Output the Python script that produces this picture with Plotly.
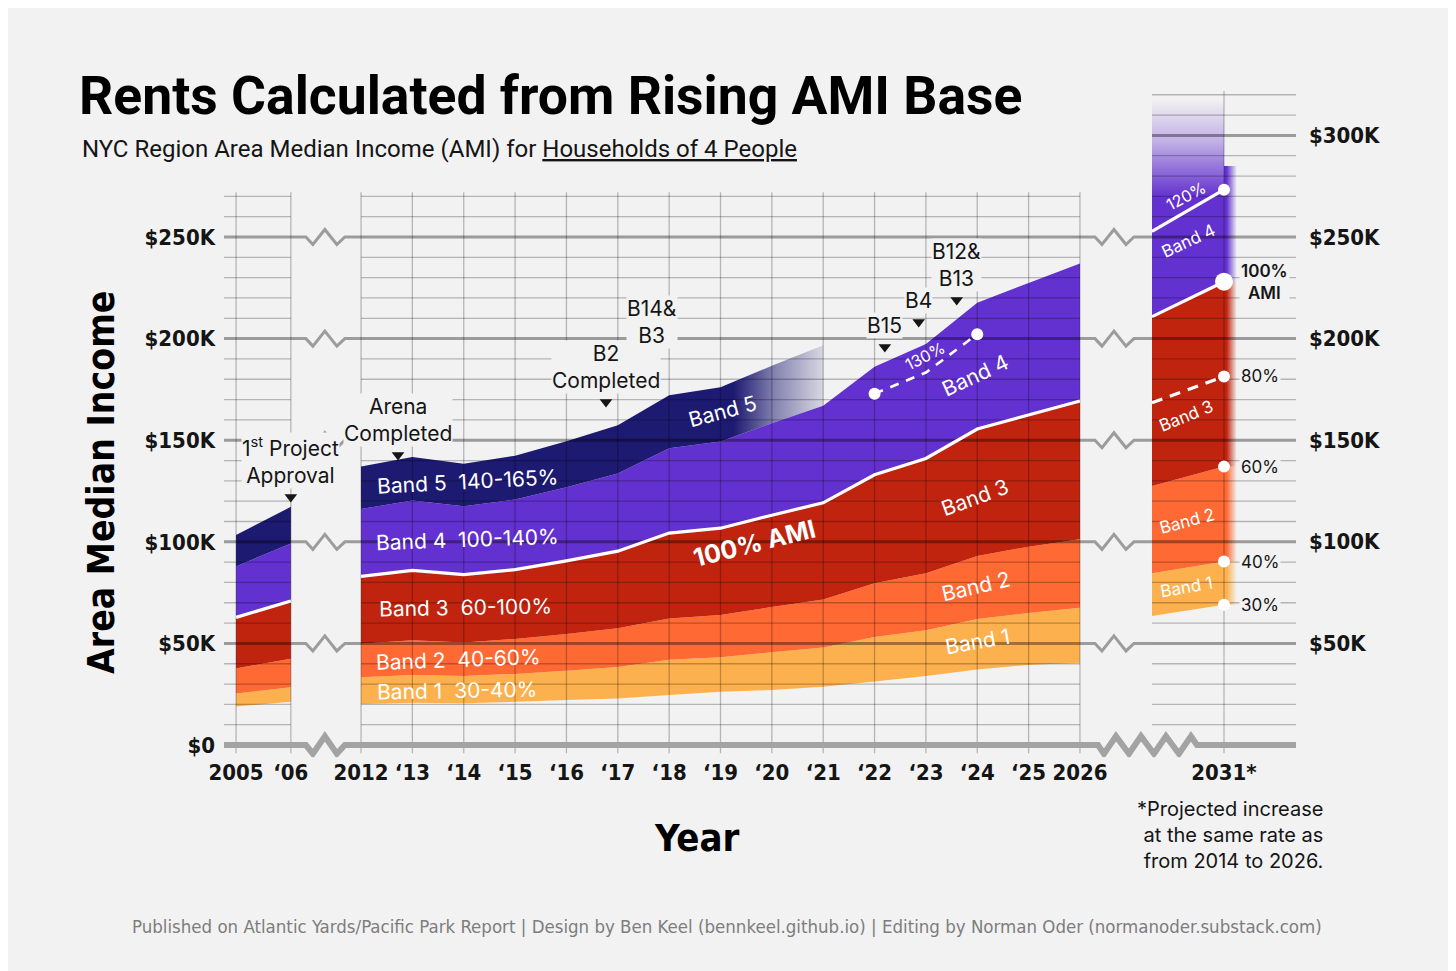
import plotly.graph_objects as go

W, H = 1456, 971
OFF = 8  # the page puts the figure 8px in from the top-left corner

BG = "#f2f2f2"
INK = "#151515"
NAVY = "#1d1a72"
PURPLE = "#6331cf"
RED = "#c0240f"
ORANGE = "#fe6934"
YELLOW = "#fdb14e"

SANS = "Inter, Roboto, 'Liberation Sans', sans-serif"
HEAD = "Roboto, Inter, 'Liberation Sans', sans-serif"
NARROW = "'DejaVu Sans Condensed', 'Liberation Sans', sans-serif"

# ---- values (thousands of dollars) ----
YEARS_EARLY = [2005, 2006]
YEARS_MID = [2012, 2013, 2014, 2015, 2016, 2017, 2018, 2019, 2020, 2021, 2022, 2023, 2024, 2025, 2026]
YEARS_BAND5 = [2012, 2013, 2014, 2015, 2016, 2017, 2018, 2019, 2020, 2021]
YEARS_130 = [2022, 2023, 2024]
YEARS_PROJ = [2029.6, 2031]

EARLY_BASE = [18.9, 21.3]
EARLY_40 = [25.4, 28.4]
EARLY_60 = [37.7, 42.5]
EARLY_AMI = [62.8, 70.9]
EARLY_140 = [87.9, 99.2]
EARLY_165 = [103.4, 117.2]

MID_BASE = [20.2, 20.8, 20.5, 21.3, 22.1, 22.9, 24.6, 26.2, 27.1, 28.7, 31.2, 34.0, 37.2, 39.4, 40.5]
MID_40 = [33.3, 34.4, 33.9, 35.0, 36.6, 38.4, 41.9, 43.2, 45.6, 48.0, 53.2, 56.5, 62.0, 65.0, 67.5]
MID_60 = [49.8, 51.6, 50.4, 52.2, 54.6, 57.4, 62.3, 64.0, 67.9, 71.6, 79.6, 84.5, 93.0, 97.6, 101.2]
MID_AMI = [83.0, 85.9, 83.9, 86.3, 90.6, 95.4, 104.3, 106.7, 113.1, 119.2, 133.0, 141.0, 155.5, 162.4, 169.3]
MID_140 = [116.2, 120.3, 117.5, 120.8, 126.8, 133.6, 146.0, 149.4, 158.3, 166.9, 186.2, 197.4, 217.7, 227.4, 237.0]
MID_165 = [137.0, 141.7, 138.4, 142.4, 149.5, 157.4, 172.1, 176.1, 186.6, 196.7]
MID_130 = [172.9, 183.3, 202.2]

PROJ_BASE = [63.5, 69.0]
PROJ_40 = [84.5, 90.3]
PROJ_60 = [127.5, 137.0]
PROJ_80 = [168.4, 181.4]
PROJ_AMI = [210.8, 228.0]
PROJ_120 = [252.8, 273.3]

TICKS_EARLY = ["2005", "\u201806"]
TICKS_MID = ["2012", "\u201813", "\u201814", "\u201815", "\u201816", "\u201817", "\u201818", "\u201819",
             "\u201820", "\u201821", "\u201822", "\u201823", "\u201824", "\u201825", "2026"]
TICKS_PROJ = ["2031*"]

Y_TICKS_LEFT = [0, 50, 100, 150, 200, 250]
Y_TICKS_RIGHT = [50, 100, 150, 200, 250, 300]

EVENT_TEXT = ["Housing<br>MOU Signed", "1<sup>st</sup> Project<br>Approval", "Arena<br>Completed",
              "B2<br>Completed", "B14&amp;<br>B3", "B15", "B4", "B12&amp;<br>B13"]
EVENT_YEAR = [2005, 2006, 2012.72, 2016.77, 2017.66, 2022.2, 2022.86, 2023.6]
EVENT_ARROW_Y = [-28.5, 122, 142.7, 168.8, 191, 195.9, 208.2, 219]  # where the pointer sits


def fx(px):
    return (px - OFF) / W


def fy(py):
    return 1 - (py - OFF) / H


# ---- panel geometry: pixel domains, year ranges ----
Y_RANGE = [-6, 322]
Y_DOMAIN = [fy(757.2), fy(90.7)]
PANELS = {
    "x": dict(dom=[224, 292.5], rng=[2004.78, 2006.03], span=[2004.78, 2006], top=270, vtop=272,
              verts=YEARS_EARLY),
    "x2": dict(dom=[359.5, 1081.5], rng=[2011.97, 2026.03], span=[2012, 2026], top=270, vtop=272,
               verts=YEARS_MID),
    "x3": dict(dom=[1152, 1296], rng=[2029.6, 2032.4], span=[2029.6, 2032.4], top=320, vtop=322,
               verts=[2031]),
}
FADE = 0.25          # soft right edge of the projection column, in years
FADE_TOP = 318       # where the projected purple fades out


def to_paper(axis, year):
    p = PANELS[axis]
    frac = (year - p["rng"][0]) / (p["rng"][1] - p["rng"][0])
    return fx(p["dom"][0] + frac * (p["dom"][1] - p["dom"][0]))


def hex_rgba(color, alpha):
    r, g, b = (int(color[i:i + 2], 16) for i in (1, 3, 5))
    return f"rgba({r},{g},{b},{alpha})"


def band(xs, lower, upper, color, xaxis, gradient=None):
    tr = go.Scatter(x=list(xs) + list(xs)[::-1], y=list(upper) + list(lower)[::-1],
                    xaxis=xaxis, yaxis="y", mode="none", fill="toself", fillcolor=color,
                    hoverinfo="skip", showlegend=False)
    if gradient is not None:
        tr.update(fillgradient=gradient)
    return tr


def fade_edge(lower, upper, color):
    xs = [YEARS_PROJ[-1], YEARS_PROJ[-1] + FADE]
    grad = dict(type="horizontal", start=xs[0], stop=xs[1],
                colorscale=[[0, color], [0.2, color], [1, hex_rgba(color, 0)]])
    return band(xs, [lower] * 2, [upper] * 2, color, "x3", grad)


def line(xs, ys, xaxis, width=3.2, dash="solid", color="white"):
    return go.Scatter(x=xs, y=ys, xaxis=xaxis, yaxis="y", mode="lines",
                      line=dict(color=color, width=width, dash=dash),
                      hoverinfo="skip", showlegend=False)


def grid(xaxis):
    p = PANELS[xaxis]
    x0, x1 = p["span"]
    mx, my, Mx, My = [], [], [], []
    for v in range(10, p["top"] + 1, 10):
        if v % 50:
            mx += [x0, x1, None]
            my += [v, v, None]
        else:
            Mx += [x0, x1, None]
            My += [v, v, None]
    for yr in p["verts"]:
        mx += [yr, yr, None]
        my += [-4, p["vtop"], None]
    return [line(mx, my, xaxis, 1.3, color="rgba(0,0,0,0.25)"),
            line(Mx, My, xaxis, 3, color="rgba(0,0,0,0.36)")]


traces = []

# early column 2005-06
traces += [
    band(YEARS_EARLY, EARLY_BASE, EARLY_40, YELLOW, "x"),
    band(YEARS_EARLY, EARLY_40, EARLY_60, ORANGE, "x"),
    band(YEARS_EARLY, EARLY_60, EARLY_AMI, RED, "x"),
    band(YEARS_EARLY, EARLY_AMI, EARLY_140, PURPLE, "x"),
    band(YEARS_EARLY, EARLY_140, EARLY_165, NAVY, "x"),
]

# 2012-2026
navy_fade = dict(type="horizontal", start=2012, stop=2021.3,
                 colorscale=[[0, NAVY], [0.78, NAVY], [0.87, hex_rgba(NAVY, 0.5)],
                             [1, hex_rgba(NAVY, 0)]])
traces += [
    band(YEARS_MID, MID_BASE, MID_40, YELLOW, "x2"),
    band(YEARS_MID, MID_40, MID_60, ORANGE, "x2"),
    band(YEARS_MID, MID_60, MID_AMI, RED, "x2"),
    band(YEARS_MID, MID_AMI, MID_140, PURPLE, "x2"),
    band(YEARS_BAND5, MID_140[:len(YEARS_BAND5)], MID_165, NAVY, "x2", navy_fade),
]

# projection column
purple_fade = dict(type="vertical", start=PROJ_AMI[0], stop=FADE_TOP,
                   colorscale=[[0, PURPLE], [0.55, PURPLE], [0.8, hex_rgba(PURPLE, 0.35)],
                               [1, hex_rgba(PURPLE, 0)]])
traces += [
    band(YEARS_PROJ, PROJ_BASE, PROJ_40, YELLOW, "x3"),
    band(YEARS_PROJ, PROJ_40, PROJ_60, ORANGE, "x3"),
    band(YEARS_PROJ, PROJ_60, PROJ_AMI, RED, "x3"),
    band(YEARS_PROJ, PROJ_AMI, [FADE_TOP] * 2, PURPLE, "x3", purple_fade),
    fade_edge(PROJ_BASE[-1], PROJ_40[-1], YELLOW),
    fade_edge(PROJ_40[-1], PROJ_60[-1], ORANGE),
    fade_edge(PROJ_60[-1], PROJ_AMI[-1], RED),
    fade_edge(PROJ_AMI[-1], 285, PURPLE),
]

# grid drawn over the fills
for ax in PANELS:
    traces += grid(ax)

# white threshold lines
traces += [
    line(YEARS_EARLY, EARLY_AMI, "x"),
    line(YEARS_MID, MID_AMI, "x2"),
    line(YEARS_130, MID_130, "x2", 2.6, dash="9px,8px"),
    line(YEARS_PROJ, PROJ_AMI, "x3"),
    line(YEARS_PROJ, PROJ_120, "x3"),
    line(YEARS_PROJ, PROJ_80, "x3", dash="11px,8px"),
]

traces.append(go.Scatter(x=[YEARS_130[0], YEARS_130[-1]], y=[MID_130[0], MID_130[-1]],
                         xaxis="x2", yaxis="y", mode="markers",
                         marker=dict(color="white", size=12, opacity=1, line=dict(width=0)),
                         hoverinfo="skip", showlegend=False))
proj_dots = [PROJ_BASE[-1], PROJ_40[-1], PROJ_60[-1], PROJ_80[-1], PROJ_AMI[-1], PROJ_120[-1]]
traces.append(go.Scatter(x=[YEARS_PROJ[-1]] * len(proj_dots), y=proj_dots, xaxis="x3", yaxis="y",
                         mode="markers", cliponaxis=False,
                         marker=dict(color="white", size=[12, 12, 12, 12, 18, 12], opacity=1,
                                     line=dict(width=0)),
                         hoverinfo="skip", showlegend=False))

# event pointers
for yr, ay in zip(EVENT_YEAR, EVENT_ARROW_Y):
    ax = "x" if yr <= 2006 else "x2"
    traces.append(go.Scatter(x=[yr], y=[ay], xaxis=ax, yaxis="y", mode="markers", cliponaxis=False,
                             marker=dict(symbol="triangle-up" if ay < 0 else "triangle-down",
                                         size=11, color=INK),
                             hoverinfo="skip", showlegend=False))

fig = go.Figure(traces)

annotations = []
for txt, yr, ay in zip(EVENT_TEXT, EVENT_YEAR, EVENT_ARROW_Y):
    ax = "x" if yr <= 2006 else "x2"
    below = ay < 0
    annotations.append(dict(text=txt, x=yr, y=ay, xref=ax, yref="y", showarrow=False,
                            xanchor="center", yanchor="top" if below else "bottom",
                            yshift=-8 if below else 8,
                            font=dict(family=SANS, size=21, color=INK), bgcolor=BG, borderpad=0))

# white labels inside the bands
BAND_LABELS = [
    ("Band 5\u00a0\u00a0140-165%", "x2", 2014.07, 129.9, -3, 21),
    ("Band 4\u00a0\u00a0100-140%", "x2", 2014.07, 100.9, -2, 21),
    ("Band 3\u00a0\u00a060-100%", "x2", 2014.04, 67.9, -1, 21),
    ("Band 2\u00a0\u00a040-60%", "x2", 2013.89, 42.3, -2, 21),
    ("Band 1\u00a0\u00a030-40%", "x2", 2013.86, 26.6, -1, 21),
    ("Band 5", "x2", 2019.03, 163.9, -15, 21),
    ("Band 4", "x2", 2023.95, 182.0, -25, 21),
    ("130%", "x2", 2022.98, 191.4, -27, 16),
    ("Band 3", "x2", 2023.95, 122.0, -20, 21),
    ("Band 2", "x2", 2023.97, 78.2, -13, 21),
    ("Band 1", "x2", 2024.0, 50.7, -10, 21),
    ("120%", "x3", 2030.26, 270.2, -28, 16),
    ("Band 4", "x3", 2030.3, 248.0, -25, 17),
    ("Band 3", "x3", 2030.26, 161.9, -22, 17),
    ("Band 2", "x3", 2030.28, 110.2, -15, 17),
    ("Band 1", "x3", 2030.28, 77.8, -10, 17),
]
for txt, ax, x, y, ang, size in BAND_LABELS:
    annotations.append(dict(text=txt, x=x, y=y, xref=ax, yref="y", showarrow=False, textangle=ang,
                            xanchor="center", yanchor="middle",
                            font=dict(family=SANS, size=size, color="white")))
annotations.append(dict(text="100% AMI", x=2019.67, y=99.4, xref="x2", yref="y", showarrow=False,
                        textangle=-14, xanchor="center", yanchor="middle",
                        font=dict(family=SANS, size=25, color="white", weight=700)))

# labels beside the projected dots
for txt, y in [("100%<br>AMI", PROJ_AMI[-1]), ("80%", PROJ_80[-1]), ("60%", PROJ_60[-1]),
               ("40%", PROJ_40[-1]), ("30%", PROJ_BASE[-1])]:
    bold = "AMI" in txt
    annotations.append(dict(text=txt, x=YEARS_PROJ[-1] + 0.3, y=y, xref="x3", yref="y",
                            showarrow=False, xanchor="left", yanchor="middle", bgcolor=BG, borderpad=1,
                            font=dict(family=SANS, size=17, color=INK, weight=600 if bold else 400)))

tick_font = dict(family=NARROW, size=22, color=INK, weight=700)

# right-hand dollar labels
for v in Y_TICKS_RIGHT:
    annotations.append(dict(text=f"${v}K", x=fx(1307), y=v, xref="paper", yref="y", showarrow=False,
                            xanchor="left", yanchor="middle", font=tick_font))

paper_text = dict(xref="paper", yref="paper", showarrow=False, yanchor="middle")
annotations += [
    dict(paper_text, text="Rents Calculated from Rising AMI Base", x=fx(77), y=fy(95), xanchor="left",
         font=dict(family=HEAD, size=53.5, color="#000", weight=700)),
    dict(paper_text, text="NYC Region Area Median Income (AMI) for <u>Households of 4 People</u>",
         x=fx(80), y=fy(149), xanchor="left", font=dict(family=HEAD, size=24, color=INK)),
    dict(paper_text, text="Area Median Income", x=fx(101), y=fy(483), xanchor="center", textangle=-90,
         font=dict(family=NARROW, size=37, color="#000", weight=700)),
    dict(paper_text, text="Year", x=fx(697), y=fy(838), xanchor="center",
         font=dict(family=NARROW, size=38, color="#000", weight=700)),
    dict(paper_text, text="*Projected increase<br>at the same rate as<br>from 2014 to 2026.",
         x=fx(1325), y=fy(835), xanchor="right", align="right",
         font=dict(family=SANS, size=20, color=INK)),
    dict(paper_text, text="Published on Atlantic Yards/Pacific Park Report | Design by Ben Keel "
                          "(bennkeel.github.io) | Editing by Norman Oder (normanoder.substack.com)",
         x=fx(727), y=fy(926), xanchor="center", font=dict(family=NARROW, size=18.5, color="#7d7d7d")),
]


def zigzag(v, amp, gaps):
    pts = [(to_paper("x", PANELS["x"]["span"][0]), v)]
    for start, offsets in gaps:
        for i, off in enumerate(offsets):
            if i == 0 or i == len(offsets) - 1:
                dy = 0
            else:
                dy = -amp if i % 2 else amp
            pts.append((start + off / W, v + dy))
    pts.append((to_paper("x3", PANELS["x3"]["span"][1]), v))
    return "M " + " L ".join(f"{x:.5f},{y:.2f}" for x, y in pts)


# zigzag break marks in the gaps between the columns
gap_left = to_paper("x", 2006)
gap_right = to_paper("x2", 2026)
TEETH = [15, 22, 34, 46, 54]
shapes = []
for v in range(50, 251, 50):
    # only the gap pieces: inside the columns the grid traces draw the line
    for start, end in [(gap_left, to_paper("x2", 2012)), (gap_right, to_paper("x3", 2029.6))]:
        pts = [(start, v)] + [(start + off / W, v + (0 if i in (0, 4) else (-3.7 if i % 2 else 3.7)))
                              for i, off in enumerate(TEETH)] + [(end, v)]
        shapes.append(dict(type="path", xref="paper", yref="y", layer="below",
                           path="M " + " L ".join(f"{x:.5f},{y:.2f}" for x, y in pts),
                           line=dict(color="#9c9c9c", width=3)))

shapes.append(dict(type="path", xref="paper", yref="y", layer="above",
                   path=zigzag(0, 4.3, [(gap_left, TEETH),
                                        (gap_right, [18, 24, 36, 49, 61, 74, 86, 99, 111, 117])]),
                   line=dict(color="#a3a3a3", width=6)))

axis_base = dict(showgrid=False, zeroline=False, showline=False, ticks="", fixedrange=True,
                 automargin=False, tickangle=0)
fig.update_layout(
    width=W, height=H, margin=dict(l=0, r=0, t=0, b=0, autoexpand=False),
    paper_bgcolor=BG, plot_bgcolor="rgba(0,0,0,0)", hovermode=False, showlegend=False,
    xaxis=dict(axis_base, domain=[fx(d) for d in PANELS["x"]["dom"]], range=PANELS["x"]["rng"],
               anchor="y", tickvals=YEARS_EARLY, ticktext=TICKS_EARLY, tickfont=tick_font),
    xaxis2=dict(axis_base, domain=[fx(d) for d in PANELS["x2"]["dom"]], range=PANELS["x2"]["rng"],
                anchor="y", tickvals=YEARS_MID, ticktext=TICKS_MID, tickfont=tick_font),
    xaxis3=dict(axis_base, domain=[fx(d) for d in PANELS["x3"]["dom"]], range=PANELS["x3"]["rng"],
                anchor="y", tickvals=[2031], ticktext=TICKS_PROJ, tickfont=tick_font),
    yaxis=dict(axis_base, domain=Y_DOMAIN, range=Y_RANGE, anchor="x",
               tickvals=Y_TICKS_LEFT, ticktext=[f"${v}K" if v else "$0" for v in Y_TICKS_LEFT],
               tickfont=tick_font, ticklabelstandoff=8),
    annotations=annotations,
    shapes=shapes,
)

fig.write_html("out.html")
